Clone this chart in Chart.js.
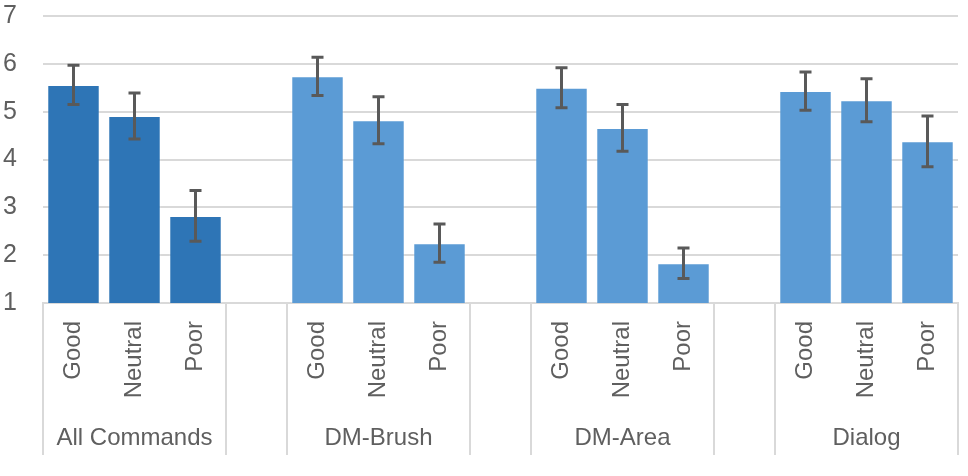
<!DOCTYPE html>
<html>
<head>
<meta charset="utf-8">
<script src="https://cdn.jsdelivr.net/npm/chart.js@4/dist/chart.umd.min.js"></script>
<style>
  html, body { margin: 0; padding: 0; background: #fff; }
  #wrap { width: 968px; height: 476px; position: relative; }
</style>
</head>
<body>
<div id="wrap"><canvas id="ratingChart"></canvas></div>
<script>
// Data
const groups = ['All Commands', 'DM-Brush', 'DM-Area', 'Dialog'];
const ratings = ['Good', 'Neutral', 'Poor'];
const allCommands = [5.56, 4.91, 2.82];
const dmBrush = [5.74, 4.82, 2.25];
const dmArea = [5.50, 4.66, 1.83];
const dialog = [5.43, 5.24, 4.38];
// half-width of the error bars
const errAllCommands = [0.41, 0.48, 0.53];
const errDmBrush = [0.40, 0.49, 0.40];
const errDmArea = [0.42, 0.49, 0.32];
const errDialog = [0.40, 0.45, 0.53];
const yTicks = [1, 2, 3, 4, 5, 6, 7];

const groupValues = [allCommands, dmBrush, dmArea, dialog];
const groupErrors = [errAllCommands, errDmBrush, errDmArea, errDialog];
const groupColors = ['#2E75B6', '#5B9BD5', '#5B9BD5', '#5B9BD5'];

// flatten into one category axis, with an empty slot between groups
const labels = [], values = [], errors = [], colors = [];
groups.forEach((g, gi) => {
    ratings.forEach((r, ri) => {
        labels.push(r);
        values.push(groupValues[gi][ri]);
        errors.push(groupErrors[gi][ri]);
        colors.push(groupColors[gi]);
    });
    if (gi < groups.length - 1) {
        labels.push('');
        values.push(null);
        errors.push(null);
        colors.push('#fff');
    }
});

const FONT = "'Liberation Sans', Arial, sans-serif";
const TEXT = '#5f5f5f';
const LINE = '#D9D9D9';

// error bars on top of each bar
const errorBars = {
    id: 'errorBars',
    afterDatasetsDraw(chart) {
        const ctx = chart.ctx;
        const y = chart.scales.y;
        const meta = chart.getDatasetMeta(0);
        ctx.save();
        ctx.strokeStyle = '#595959';
        ctx.lineWidth = 3;
        meta.data.forEach((bar, i) => {
            if (values[i] == null) return;
            const x = bar.x;
            const top = y.getPixelForValue(values[i] + errors[i]);
            const bot = y.getPixelForValue(values[i] - errors[i]);
            ctx.beginPath();
            ctx.moveTo(x, top); ctx.lineTo(x, bot);
            ctx.moveTo(x - 6, top); ctx.lineTo(x + 6, top);
            ctx.moveTo(x - 6, bot); ctx.lineTo(x + 6, bot);
            ctx.stroke();
        });
        ctx.restore();
    }
};

// group labels and separators under the axis
const groupAxis = {
    id: 'groupAxis',
    afterDraw(chart) {
        const ctx = chart.ctx;
        const x = chart.scales.x;
        const area = chart.chartArea;
        const slot = (x.right - x.left) / labels.length;
        ctx.save();
        ctx.strokeStyle = LINE;
        ctx.lineWidth = 2;
        const edges = [];
        groups.forEach((g, gi) => { edges.push(gi * 4, gi * 4 + 3); });
        edges.forEach(e => {
            const px = Math.round(x.left + e * slot);
            ctx.beginPath();
            ctx.moveTo(px, area.bottom);
            ctx.lineTo(px, area.bottom + 152);
            ctx.stroke();
        });
        ctx.fillStyle = TEXT;
        ctx.font = '24px ' + FONT;
        ctx.textAlign = 'center';
        ctx.textBaseline = 'middle';
        groups.forEach((g, gi) => {
            const cx = x.left + (gi * 4 + 1.5) * slot;
            ctx.fillText(g, cx, area.bottom + 135);
        });
        ctx.restore();
    }
};

new Chart(document.getElementById('ratingChart'), {
    type: 'bar',
    data: {
        labels: labels,
        datasets: [{
            data: values,
            backgroundColor: colors,
            borderColor: 'rgba(255,255,255,0.25)',
            borderWidth: 1,
            barPercentage: 0.86,
            categoryPercentage: 1.0
        }]
    },
    options: {
        responsive: true,
        maintainAspectRatio: false,
        animation: false,
        layout: { padding: { top: 16, right: 10, left: 0, bottom: 0 } },
        plugins: { legend: { display: false }, tooltip: { enabled: false } },
        scales: {
            x: {
                afterFit: s => { s.height = 173; s.paddingLeft = 0; s.paddingRight = 0; },
                grid: { display: false },
                border: { display: true, color: LINE, width: 2 },
                ticks: {
                    autoSkip: false,
                    minRotation: 90,
                    maxRotation: 90,
                    padding: 10,
                    color: TEXT,
                    font: { family: FONT, size: 24 }
                }
            },
            y: {
                min: 1,
                max: 7,
                afterFit: s => { s.width = 43; s.paddingTop = 0; s.paddingBottom = 0; },
                afterBuildTicks: s => { s.ticks = yTicks.map(v => ({ value: v })); },
                grid: { color: LINE, lineWidth: 2, drawTicks: false },
                border: { display: false },
                ticks: {
                    padding: 26,
                    color: TEXT,
                    font: { family: FONT, size: 25 }
                }
            }
        }
    },
    plugins: [errorBars, groupAxis]
});
</script>
</body>
</html>
